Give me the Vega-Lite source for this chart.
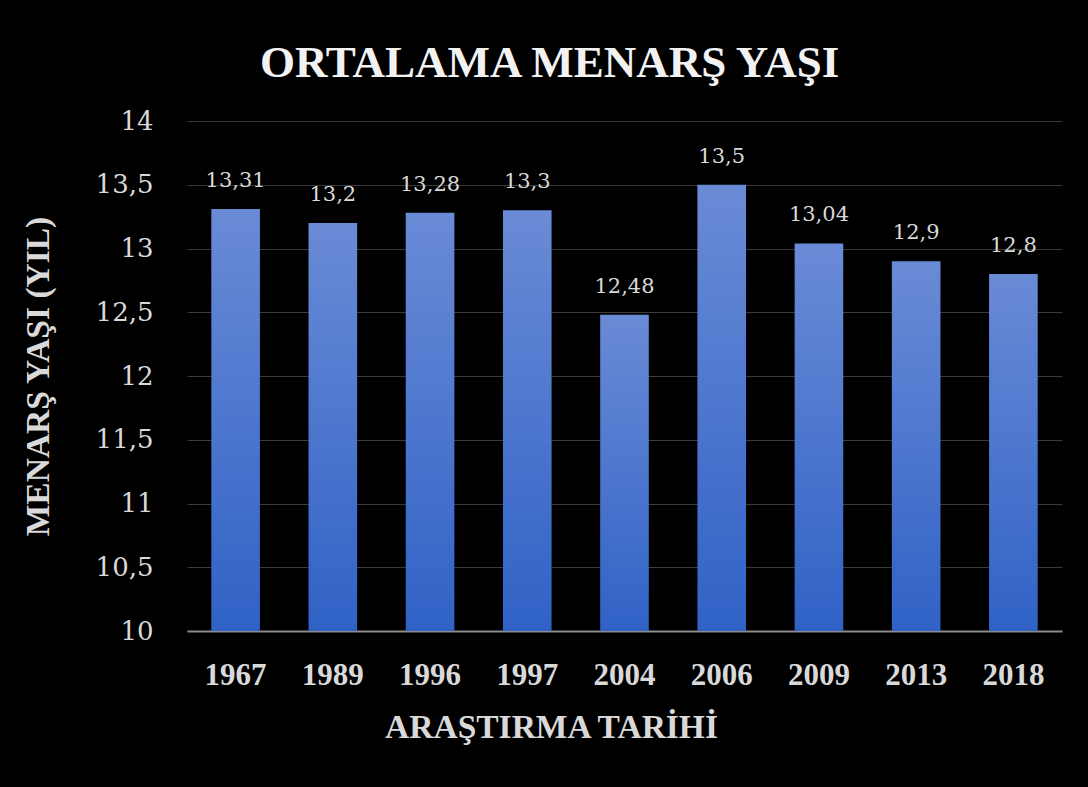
{
  "$schema": "https://vega.github.io/schema/vega-lite/v6.json",
  "width": 875,
  "height": 510,
  "autosize": {"type": "none"},
  "padding": {"left": 187, "top": 121, "right": 26, "bottom": 156},
  "background": "#000000",
  "config": {
    "locale": {"number": {"decimal": ",", "thousands": ".", "grouping": [3], "currency": ["", ""]}},
    "view": {"stroke": null},
    "font": "DejaVu Serif"
  },
  "title": {
    "text": "ORTALAMA MENARŞ YAŞI",
    "anchor": "middle",
    "frame": "bounds",
    "fontSize": 45,
    "fontWeight": "bold",
    "color": "#f2f2f2",
    "font": "Liberation Serif",
    "offset": 22,
    "dx": 8
  },
  "data": {
    "values": [
      {"yil": "1967", "yas": 13.31},
      {"yil": "1989", "yas": 13.2},
      {"yil": "1996", "yas": 13.28},
      {"yil": "1997", "yas": 13.3},
      {"yil": "2004", "yas": 12.48},
      {"yil": "2006", "yas": 13.5},
      {"yil": "2009", "yas": 13.04},
      {"yil": "2013", "yas": 12.9},
      {"yil": "2018", "yas": 12.8}
    ]
  },
  "encoding": {
    "x": {
      "field": "yil",
      "type": "nominal",
      "sort": null,
      "scale": {"paddingInner": 0.5, "paddingOuter": 0.25},
      "axis": {
        "title": "ARAŞTIRMA TARİHİ",
        "labelAngle": 0,
        "labelFont": "Liberation Serif",
        "labelFontSize": 31,
        "labelFontWeight": "bold",
        "labelColor": "#d9d9d9",
        "labelPadding": 29,
        "ticks": false,
        "domainColor": "#8c8c8c",
        "domainWidth": 2,
        "titleFont": "Liberation Serif",
        "titleFontSize": 33.5,
        "titleFontWeight": "bold",
        "titleColor": "#d9d9d9",
        "titleX": 364,
        "titleAlign": "center",
        "titlePadding": 21
      }
    },
    "y": {
      "field": "yas",
      "type": "quantitative",
      "scale": {"domain": [10, 14], "zero": false, "nice": false},
      "axis": {
        "title": "MENARŞ YAŞI (YIL)",
        "values": [10, 10.5, 11, 11.5, 12, 12.5, 13, 13.5, 14],
        "format": "~g",
        "labelFont": "DejaVu Serif",
        "labelFontSize": 26,
        "labelColor": "#d9d9d9",
        "labelPadding": 34,
        "ticks": false,
        "domain": false,
        "grid": true,
        "gridColor": "#3a3a3a",
        "gridWidth": 1,
        "titleFont": "Liberation Serif",
        "titleFontSize": 33.5,
        "titleFontWeight": "bold",
        "titleColor": "#d9d9d9",
        "titlePadding": 40
      }
    }
  },
  "layer": [
    {
      "mark": {
        "type": "bar",
        "color": {
          "gradient": "linear",
          "x1": 0, "y1": 0, "x2": 0, "y2": 1,
          "stops": [
            {"offset": 0, "color": "#6a8bd6"},
            {"offset": 1, "color": "#3062c6"}
          ]
        }
      },
      "encoding": {"y2": {"datum": 10}}
    },
    {
      "mark": {
        "type": "text",
        "baseline": "alphabetic",
        "dy": -22,
        "font": "DejaVu Serif",
        "fontSize": 21,
        "color": "#d9d9d9"
      },
      "encoding": {
        "text": {"field": "yas", "type": "quantitative", "format": "~g"}
      }
    }
  ]
}
